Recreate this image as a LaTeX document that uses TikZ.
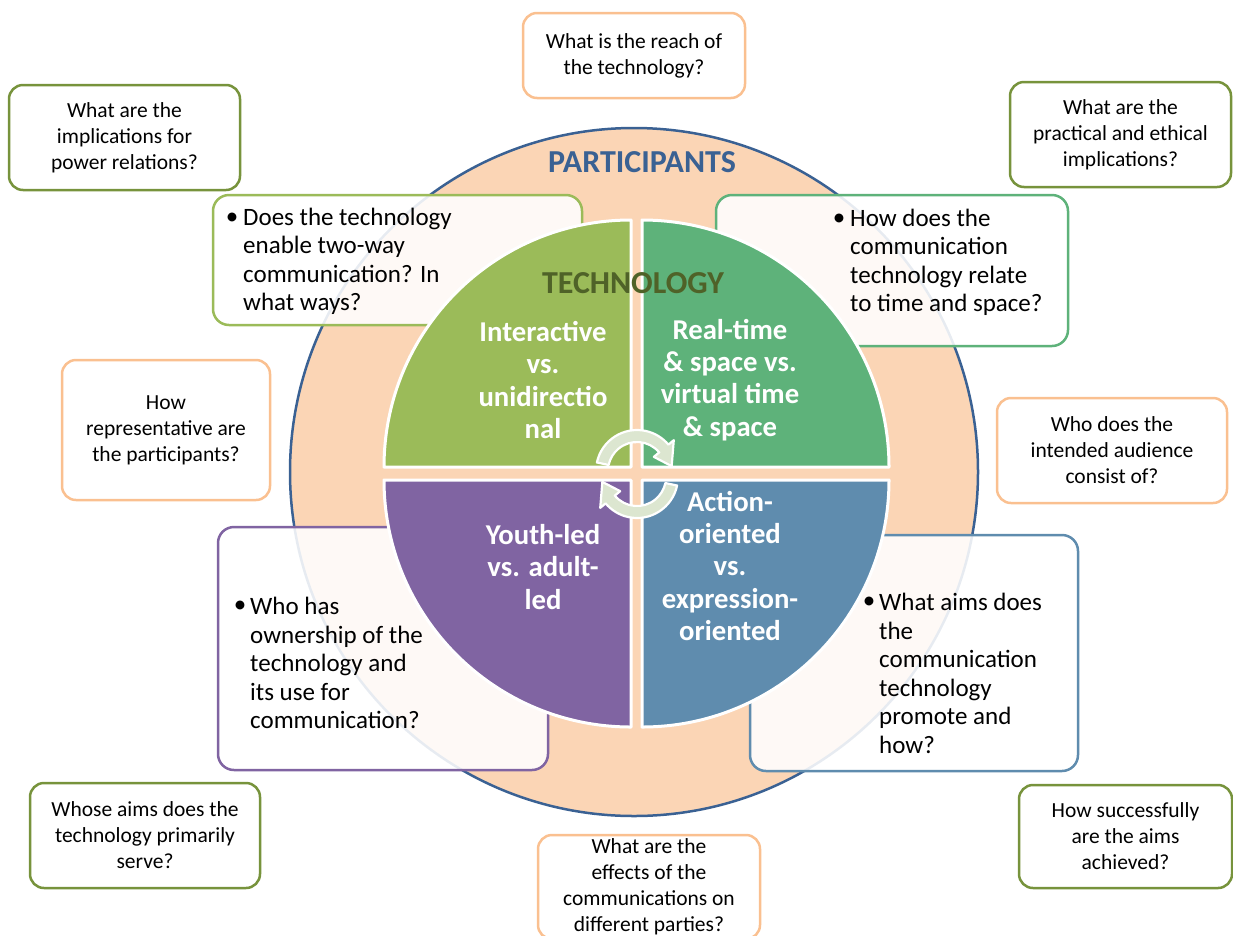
\documentclass[tikz,border=0pt]{standalone}
\usepackage{fontspec}
\setmainfont{Carlito}
\definecolor{peach}{HTML}{FBD5B5}
\definecolor{peachline}{HTML}{FAC090}
\definecolor{olive}{HTML}{77933C}
\definecolor{partblue}{HTML}{3A6193}
\definecolor{techolive}{HTML}{4F6228}
\definecolor{qA}{HTML}{9BBB59}
\definecolor{qB}{HTML}{5EB27A}
\definecolor{qC}{HTML}{8064A2}
\definecolor{qD}{HTML}{5F8CAE}
\definecolor{arrowfill}{HTML}{DCE6D0}
\tikzset{
  obox/.style={draw, line width=2.5pt, rounded corners=14pt, fill=white, align=center,
    font=\fontsize{21.5}{26}\selectfont, inner sep=0pt},
  ibox/.style={draw, line width=2.5pt, rounded corners=16pt, fill=white, fill opacity=0.88,
    draw opacity=1, inner sep=0pt},
  itext/.style={align=left, font=\fontsize{25}{28.5}\selectfont, inner sep=0pt, anchor=west},
  bul/.style={font=\fontsize{25}{28.5}\selectfont, inner sep=0pt},
  qtext/.style={align=center, text=white, font=\bfseries\fontsize{28.7}{32.3}\selectfont, inner sep=0pt},
  quad/.style={draw=white, line width=3pt, line join=round},
  carrow/.style={fill=arrowfill, draw=white, line width=2.2pt, line join=round},
  bigtitle/.style={font=\bfseries\fontsize{32}{36}\selectfont, inner sep=0pt}
}
\begin{document}
\begin{tikzpicture}[x=1pt,y=1pt]
\useasboundingbox (0,0) rectangle (1233,-935);
% outer participants circle
\node[circle, draw=partblue, fill=peach, line width=2.5pt, minimum size=688, inner sep=0pt] (P) at (634,-472) {};
\node[bigtitle, text=partblue] (ptitle) at (642,-162) {PARTICIPANTS};
% inner translucent boxes
\node[ibox, draw=qA, minimum width=369, minimum height=130] (bA) at (397.5,-260) {};
\node[ibox, draw=qB, minimum width=352, minimum height=151] (bB) at (892,-270.5) {};
\node[ibox, draw=qC, minimum width=330, minimum height=243] (bC) at (383,-648.5) {};
\node[ibox, draw=qD, minimum width=328, minimum height=236] (bD) at (914,-653) {};
% quadrants
\path[quad, fill=qA] (631,-467) -- ++(-247,0) arc[start angle=180, end angle=90, radius=247] -- cycle;
\path[quad, fill=qB] (642,-467) -- ++(0,247) arc[start angle=90, end angle=0, radius=247] -- cycle;
\path[quad, fill=qC] (631,-480) -- ++(-247,0) arc[start angle=180, end angle=270, radius=247] -- cycle;
\path[quad, fill=qD] (642,-480) -- ++(0,-247) arc[start angle=270, end angle=360, radius=247] -- cycle;
% titles and quadrant texts
\node[bigtitle, text=techolive] (ttitle) at (633,-283) {TECHNOLOGY};
\node[qtext] (qtA) at (543,-380) {Interactive\\vs.\\unidirectio\\nal};
\node[qtext] (qtB) at (730,-380) {Real-time\\\& space vs.\\virtual time\\\& space};
\node[qtext] (qtC) at (543,-567) {Youth-led\\vs. adult-\\led};
\node[qtext] (qtD) at (730,-566) {Action-\\oriented\\vs.\\expression-\\oriented};
% inner box texts
\node[bul] (uA) at (232,-219) {•};
\node[itext] (tA) at (243,-261.5) {Does the technology\\enable two-way\\communication? In\\what ways?};
\node[bul] (uB) at (839,-220) {•};
\node[itext] (tB) at (850,-262.5) {How does the\\communication\\technology relate\\to time and space?};
\node[bul] (uC) at (240,-607) {•};
\node[itext] (tC) at (250,-663) {Who has\\ownership of the\\technology and\\its use for\\communication?};
\node[bul] (uD) at (869,-603) {•};
\node[itext] (tD) at (879,-673.5) {What aims does\\the\\communication\\technology\\promote and\\how?};
% circular arrows
\begin{scope}[shift={(637,-471)}]
\path[carrow] (168:41) arc[start angle=168, end angle=40, radius=41] -- (40:48) -- (8:35) -- (40:22) -- (40:29) arc[start angle=40, end angle=168, radius=29] -- cycle;
\end{scope}
\begin{scope}[shift={(637,-477)}, rotate=180]
\path[carrow] (168:41) arc[start angle=168, end angle=40, radius=41] -- (40:48) -- (8:35) -- (40:22) -- (40:29) arc[start angle=40, end angle=168, radius=29] -- cycle;
\end{scope}
% outer question boxes
\node[obox, draw=peachline, minimum width=222, minimum height=85] (o1) at (634,-55.5) {What is the reach of\\the technology?};
\node[obox, draw=olive, minimum width=231, minimum height=105] (o2) at (124.5,-137.5) {What are the\\implications for\\power relations?};
\node[obox, draw=olive, minimum width=221, minimum height=105] (o3) at (1120.5,-134.5) {What are the\\practical and ethical\\implications?};
\node[obox, draw=peachline, minimum width=208, minimum height=140] (o4) at (166,-430) {How\\representative are\\the participants?};
\node[obox, draw=peachline, minimum width=230, minimum height=105] (o5) at (1112,-450.5) {Who does the\\intended audience\\consist of?};
\node[obox, draw=olive, minimum width=230, minimum height=105] (o6) at (145,-835.5) {Whose aims does the\\technology primarily\\serve?};
\node[obox, draw=olive, minimum width=213, minimum height=103] (o7) at (1125.5,-836.5) {How successfully\\are the aims\\achieved?};
\node[obox, draw=peachline, minimum width=222, minimum height=104] (o8) at (649,-887) {What are the\\effects of the\\communications on\\different parties?};
\end{tikzpicture}
\end{document}
